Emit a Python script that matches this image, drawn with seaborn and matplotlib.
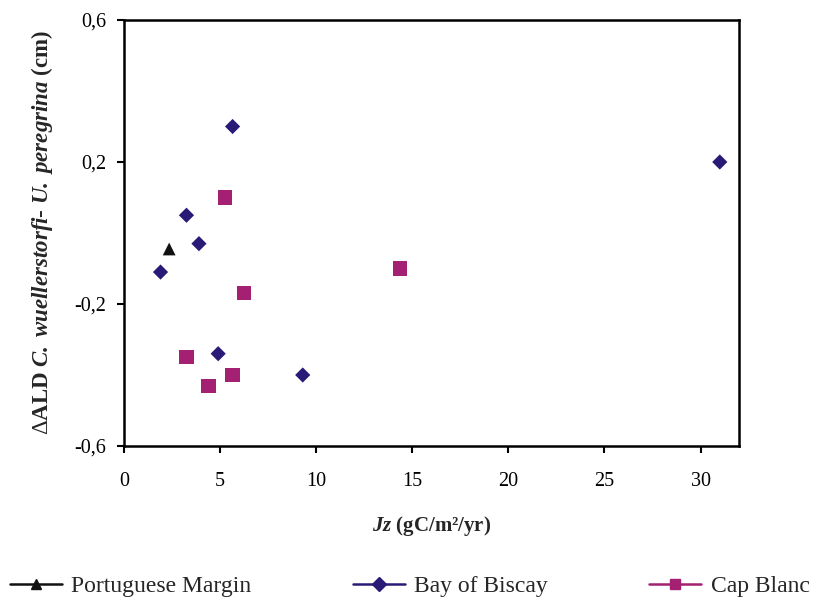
import matplotlib
matplotlib.use("Agg")
import matplotlib.pyplot as plt
from matplotlib.lines import Line2D
import seaborn as sns
import pandas as pd

# data
pm_x = [2.35]
pm_y = [-0.045]

bob_x = [1.9, 3.25, 3.9, 5.65, 4.9, 9.3, 31.0]
bob_y = [-0.11, 0.05, -0.03, 0.30, -0.34, -0.40, 0.20]

cb_x = [5.25, 14.35, 6.25, 3.25, 4.4, 5.65]
cb_y = [0.10, -0.10, -0.17, -0.35, -0.43, -0.40]

series = ["Portuguese Margin", "Bay of Biscay", "Cap Blanc"]
colors = ["#111111", "#2A1A78", "#A32072"]
markers = ["^", "D", "s"]
sizes = [85, 60, 105]

df = pd.concat([
    pd.DataFrame({"x": pm_x, "y": pm_y, "site": series[0]}),
    pd.DataFrame({"x": bob_x, "y": bob_y, "site": series[1]}),
    pd.DataFrame({"x": cb_x, "y": cb_y, "site": series[2]}),
])

sns.set_style("white")
plt.rcParams["font.family"] = ["Liberation Serif", "DejaVu Serif"]
plt.rcParams["mathtext.fontset"] = "custom"
plt.rcParams["mathtext.rm"] = "Liberation Serif"
plt.rcParams["mathtext.it"] = "Liberation Serif:italic"
plt.rcParams["mathtext.bf"] = "Liberation Serif:bold"
plt.rcParams["mathtext.bfit"] = "Liberation Serif:italic:bold"

fig = plt.figure(figsize=(8.16, 6.03), dpi=100)
ax = fig.add_axes([124 / 816, 1 - 446 / 603, (739 - 124) / 816, (446 - 20) / 603])

for s, c, m, sz in zip(series, colors, markers, sizes):
    sns.scatterplot(data=df[df["site"] == s], x="x", y="y", ax=ax, color=c,
                    marker=m, s=sz, edgecolor="none", legend=False, zorder=3)

ax.set_xlim(0, 32)
ax.set_ylim(-0.6, 0.6)
ax.set_xticks([0, 5, 10, 15, 20, 25, 30])
ax.set_yticks([-0.6, -0.2, 0.2, 0.6])
ax.set_yticklabels(["-0,6", "-0,2", "0,2", "0,6"])
ax.tick_params(axis="both", direction="out", length=5, width=1.5, labelsize=14.5,
               colors="black", bottom=True, left=True)
ax.tick_params(axis="x", pad=14)
ax.tick_params(axis="y", pad=8)
for sp in ax.spines.values():
    sp.set_visible(True)
    sp.set_linewidth(1.8)
    sp.set_color("black")

ax.set_xlabel(r"$\mathbfit{Jz}$ (gC/m²/yr)", fontsize=15, fontweight="bold", labelpad=16)
ax.set_ylabel(r"$\Delta$ALD $\mathbfit{C.\ wuellerstorfi}$- $\mathbfit{U.\ peregrina}$ (cm)",
              fontsize=16.5, fontweight="bold", labelpad=14)

handles = [Line2D([0], [0], color=c, marker=m, markersize=7, linewidth=1.8)
           for c, m in zip(colors, markers)]
fig.legend(handles, series, loc="lower center", bbox_to_anchor=(0.502, -0.025), ncol=3,
           frameon=False, fontsize=17, handlelength=2.2, handletextpad=0.4,
           columnspacing=4.3)

fig.savefig("out.png", dpi=100)
